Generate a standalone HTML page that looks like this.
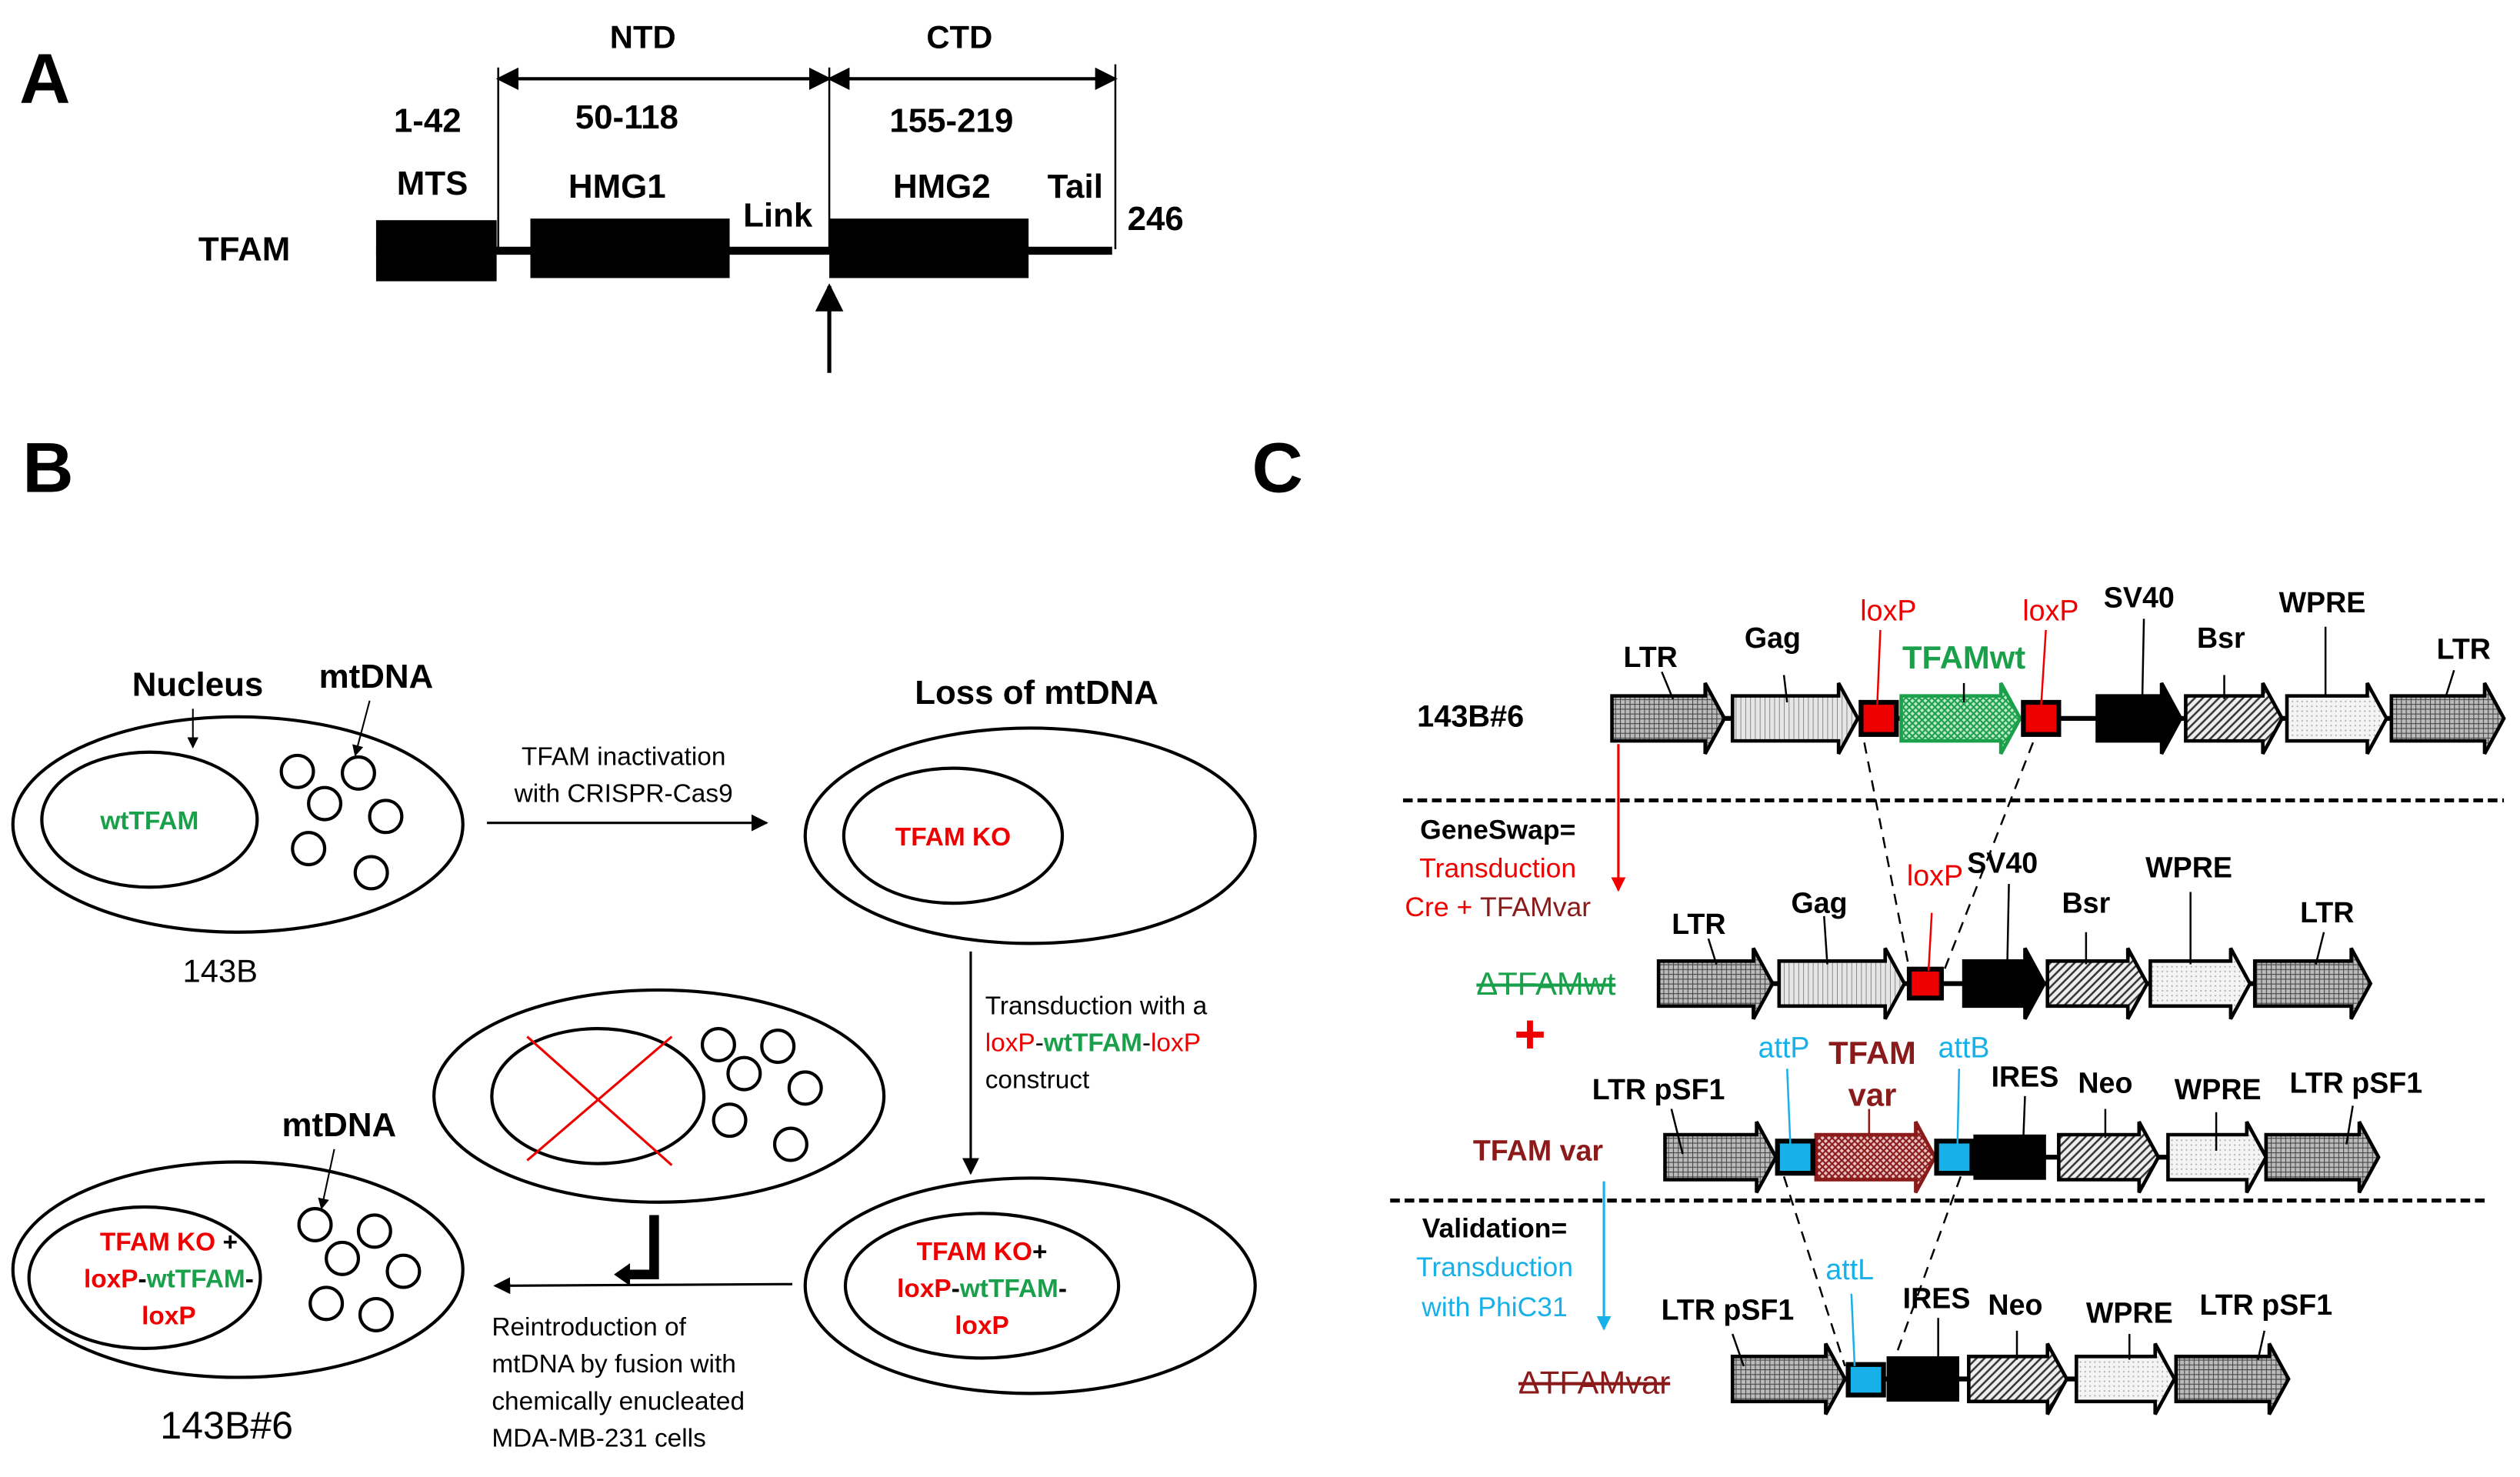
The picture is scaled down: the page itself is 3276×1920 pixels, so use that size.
<!DOCTYPE html>
<html><head><meta charset="utf-8"><style>
html,body{margin:0;padding:0;background:#fff}
svg{display:block}
text{font-family:"Liberation Sans Narrow","Liberation Sans",sans-serif}
.b{font-weight:bold}
.n{font-size:16px}
.l{font-size:18px;font-weight:bold;text-anchor:middle}
</style></head><body>
<svg width="3276" height="1920" viewBox="0 0 1568 919" xmlns="http://www.w3.org/2000/svg">
<defs>
<pattern id="grid" width="3" height="3" patternUnits="userSpaceOnUse"><rect width="3" height="3" fill="#bbb"/><path d="M0 0H3M0 0V3" stroke="#444" stroke-width="1"/></pattern>
<pattern id="vert" width="3" height="3" patternUnits="userSpaceOnUse"><rect width="3" height="3" fill="#e6e6e6"/><path d="M0 0V3" stroke="#777" stroke-width="0.8"/></pattern>
<pattern id="diag" width="5" height="5" patternUnits="userSpaceOnUse"><rect width="5" height="5" fill="#eee"/><path d="M0 5L5 0M-1 1L1 -1M4 6L6 4" stroke="#333" stroke-width="1.2"/></pattern>
<pattern id="dot" width="3" height="3" patternUnits="userSpaceOnUse"><rect width="3" height="3" fill="#f4f4f4"/><circle cx="1.5" cy="1.5" r="0.5" fill="#aaa"/></pattern>
<pattern id="green" width="4" height="4" patternUnits="userSpaceOnUse"><rect width="4" height="4" fill="#bfe8cc"/><path d="M0 0L4 4M4 0L0 4" stroke="#1aa04a" stroke-width="1"/></pattern>
<pattern id="dred" width="4" height="4" patternUnits="userSpaceOnUse"><rect width="4" height="4" fill="#e8c4c4"/><path d="M0 0L4 4M4 0L0 4" stroke="#8b1a1a" stroke-width="1"/></pattern>
<marker id="ah" viewBox="0 0 10 10" refX="9" refY="5" markerWidth="7" markerHeight="7" orient="auto-start-reverse"><path d="M0 0L10 5L0 10z" fill="#000"/></marker>
<marker id="ahr" viewBox="0 0 10 10" refX="9" refY="5" markerWidth="6" markerHeight="6" orient="auto"><path d="M0 0L10 5L0 10z" fill="#e00"/></marker>
<marker id="ahc" viewBox="0 0 10 10" refX="9" refY="5" markerWidth="6" markerHeight="6" orient="auto"><path d="M0 0L10 5L0 10z" fill="#18b0e8"/></marker>
</defs>

<!-- Panel A -->
<text x="12" y="64" font-size="44" class="b" font-family="Liberation Sans">A</text>
<text x="400" y="30" font-size="20" class="b" text-anchor="middle">NTD</text>
<text x="597" y="30" font-size="20" class="b" text-anchor="middle">CTD</text>
<line x1="310" y1="49" x2="516" y2="49" stroke="#000" stroke-width="2" marker-start="url(#ah)" marker-end="url(#ah)"/>
<line x1="516" y1="49" x2="694" y2="49" stroke="#000" stroke-width="2" marker-start="url(#ah)" marker-end="url(#ah)"/>
<line x1="310" y1="42" x2="310" y2="155" stroke="#000" stroke-width="1.2"/>
<line x1="516" y1="42" x2="516" y2="155" stroke="#000" stroke-width="1.2"/>
<line x1="694" y1="40" x2="694" y2="155" stroke="#000" stroke-width="1.2"/>
<g font-size="21" class="b" text-anchor="middle">
<text x="266" y="82">1-42</text><text x="390" y="80">50-118</text><text x="592" y="82">155-219</text>
<text x="269" y="121">MTS</text><text x="384" y="123">HMG1</text><text x="484" y="141">Link</text>
<text x="586" y="123">HMG2</text><text x="669" y="123">Tail</text><text x="719" y="143">246</text>
<text x="152" y="162">TFAM</text>
</g>
<line x1="234" y1="156" x2="692" y2="156" stroke="#000" stroke-width="5"/>
<rect x="234" y="137" width="75" height="38" fill="#000"/>
<rect x="330" y="136" width="124" height="37" fill="#000"/>
<rect x="516" y="136" width="124" height="37" fill="#000"/>
<line x1="516" y1="232" x2="516" y2="178" stroke="#000" stroke-width="2.5" marker-end="url(#ah)"/>

<!-- Panel B -->
<text x="14" y="306" font-size="44" class="b" font-family="Liberation Sans">B</text>
<text x="779" y="306" font-size="44" class="b" font-family="Liberation Sans">C</text>

<g fill="none" stroke="#000" stroke-width="2">
<ellipse cx="148" cy="513" rx="140" ry="67"/><ellipse cx="93" cy="510" rx="67" ry="42"/>
<ellipse cx="641" cy="520" rx="140" ry="67"/><ellipse cx="593" cy="520" rx="68" ry="42"/>
<ellipse cx="641" cy="800" rx="140" ry="67"/><ellipse cx="611" cy="800" rx="85" ry="45"/>
<ellipse cx="410" cy="682" rx="140" ry="66"/><ellipse cx="372" cy="682" rx="66" ry="42"/>
<ellipse cx="148" cy="790" rx="140" ry="67"/><ellipse cx="90" cy="795" rx="72" ry="44"/>
<circle cx="185" cy="480" r="10"/><circle cx="223" cy="481" r="10"/><circle cx="202" cy="500" r="10"/><circle cx="240" cy="508" r="10"/><circle cx="192" cy="528" r="10"/><circle cx="231" cy="543" r="10"/>
<circle cx="447" cy="650" r="10"/><circle cx="484" cy="651" r="10"/><circle cx="463" cy="668" r="10"/><circle cx="501" cy="677" r="10"/><circle cx="454" cy="697" r="10"/><circle cx="492" cy="712" r="10"/>
<circle cx="196" cy="762" r="10"/><circle cx="233" cy="766" r="10"/><circle cx="213" cy="783" r="10"/><circle cx="251" cy="791" r="10"/><circle cx="203" cy="811" r="10"/><circle cx="234" cy="818" r="10"/>
</g>
<line x1="328" y1="645" x2="418" y2="725" stroke="#e00" stroke-width="1.5"/>
<line x1="418" y1="645" x2="328" y2="722" stroke="#e00" stroke-width="1.5"/>

<text x="93" y="516" font-size="16" class="b" fill="#1aa04a" text-anchor="middle">wtTFAM</text>
<text x="123" y="433" font-size="21" class="b" text-anchor="middle">Nucleus</text>
<line x1="120" y1="441" x2="120" y2="465" stroke="#000" stroke-width="1" marker-end="url(#ah)"/>
<text x="234" y="428" font-size="21" class="b" text-anchor="middle">mtDNA</text>
<line x1="230" y1="436" x2="221" y2="470" stroke="#000" stroke-width="1" marker-end="url(#ah)"/>
<text x="137" y="611" font-size="20" text-anchor="middle">143B</text>
<line x1="303" y1="512" x2="477" y2="512" stroke="#000" stroke-width="1.5" marker-end="url(#ah)"/>
<text x="388" y="476" class="n" text-anchor="middle">TFAM inactivation</text>
<text x="388" y="499" class="n" text-anchor="middle">with CRISPR-Cas9</text>
<text x="645" y="438" font-size="21" class="b" text-anchor="middle">Loss of mtDNA</text>
<text x="593" y="526" font-size="16" class="b" fill="#e00" text-anchor="middle">TFAM KO</text>
<line x1="604" y1="592" x2="604" y2="730" stroke="#000" stroke-width="1.5" marker-end="url(#ah)"/>
<text x="613" y="631" class="n">Transduction with a</text>
<text x="613" y="654" class="n"><tspan fill="#e00">loxP</tspan>-<tspan fill="#1aa04a" font-weight="bold">wtTFAM</tspan>-<tspan fill="#e00">loxP</tspan></text>
<text x="613" y="677" class="n">construct</text>
<g font-size="16" class="b" text-anchor="middle">
<text x="611" y="784"><tspan fill="#e00">TFAM KO</tspan>+</text>
<text x="611" y="807"><tspan fill="#e00">loxP</tspan>-<tspan fill="#1aa04a">wtTFAM</tspan>-</text>
<text x="611" y="830" fill="#e00">loxP</text>
<text x="105" y="778"><tspan fill="#e00">TFAM KO</tspan> +</text>
<text x="105" y="801"><tspan fill="#e00">loxP</tspan>-<tspan fill="#1aa04a">wtTFAM</tspan>-</text>
<text x="105" y="824" fill="#e00">loxP</text>
</g>
<text x="211" y="707" font-size="21" class="b" text-anchor="middle">mtDNA</text>
<line x1="208" y1="715" x2="200" y2="752" stroke="#000" stroke-width="1" marker-end="url(#ah)"/>
<text x="141" y="895" font-size="24" text-anchor="middle">143B#6</text>
<line x1="493" y1="799" x2="308" y2="800" stroke="#000" stroke-width="1.5" marker-end="url(#ah)"/>
<path d="M407 756V793H390" fill="none" stroke="#000" stroke-width="6"/>
<path d="M392 786L382 793L392 800z" fill="#000"/>
<text x="306" y="831" class="n">Reintroduction of</text>
<text x="306" y="854" class="n">mtDNA by fusion with</text>
<text x="306" y="877" class="n">chemically enucleated</text>
<text x="306" y="900" class="n">MDA-MB-231 cells</text>

<!-- Panel C -->
<g stroke="#000" stroke-width="3">
<line x1="1003" y1="447" x2="1556" y2="447"/>
<line x1="1032" y1="612" x2="1473" y2="612"/>
<line x1="1036" y1="720" x2="1478" y2="720"/>
<line x1="1078" y1="858" x2="1422" y2="858"/>
</g>
<g stroke="#000" stroke-width="2.2">
<polygon fill="url(#grid)" points="1003,433 1061,433 1061,425 1073,447 1061,469 1061,461 1003,461"/>
<polygon fill="url(#vert)" points="1078,433 1144,433 1144,425 1156,447 1144,469 1144,461 1078,461"/>
<polygon fill="url(#green)" stroke="#1aa04a" points="1183,433 1245,433 1245,425 1257,447 1245,469 1245,461 1183,461"/>
<polygon fill="#000" points="1305,433 1345,433 1345,425 1357,447 1345,469 1345,461 1305,461"/>
<polygon fill="url(#diag)" points="1360,433 1408,433 1408,425 1420,447 1408,469 1408,461 1360,461"/>
<polygon fill="url(#dot)" points="1423,433 1473,433 1473,425 1485,447 1473,469 1473,461 1423,461"/>
<polygon fill="url(#grid)" points="1488,433 1546,433 1546,425 1558,447 1546,469 1546,461 1488,461"/>
<rect x="1158" y="437" width="22" height="20" fill="#e00" stroke-width="3"/>
<rect x="1259" y="437" width="22" height="20" fill="#e00" stroke-width="3"/>
<polygon fill="url(#grid)" points="1032,598 1091,598 1091,590 1103,612 1091,634 1091,626 1032,626"/>
<polygon fill="url(#vert)" points="1107,598 1173,598 1173,590 1185,612 1173,634 1173,626 1107,626"/>
<polygon fill="#000" points="1222,598 1260,598 1260,590 1272,612 1260,634 1260,626 1222,626"/>
<polygon fill="url(#diag)" points="1274,598 1324,598 1324,590 1336,612 1324,634 1324,626 1274,626"/>
<polygon fill="url(#dot)" points="1338,598 1388,598 1388,590 1400,612 1388,634 1388,626 1338,626"/>
<polygon fill="url(#grid)" points="1403,598 1463,598 1463,590 1475,612 1463,634 1463,626 1403,626"/>
<rect x="1188" y="603" width="20" height="18" fill="#e00" stroke-width="3"/>
<polygon fill="url(#grid)" points="1036,706 1093,706 1093,698 1105,720 1093,742 1093,734 1036,734"/>
<polygon fill="url(#dred)" stroke="#8b1a1a" points="1130,706 1192,706 1192,698 1204,720 1192,742 1192,734 1130,734"/>
<polygon fill="url(#diag)" points="1281,706 1331,706 1331,698 1343,720 1331,742 1331,734 1281,734"/>
<polygon fill="url(#dot)" points="1349,706 1398,706 1398,698 1410,720 1398,742 1398,734 1349,734"/>
<polygon fill="url(#grid)" points="1410,706 1468,706 1468,698 1480,720 1468,742 1468,734 1410,734"/>
<rect x="1106" y="710" width="22" height="20" fill="#18b0e8" stroke-width="3"/>
<rect x="1205" y="710" width="22" height="20" fill="#18b0e8" stroke-width="3"/>
<rect x="1229" y="707" width="43" height="26" fill="#000"/>
<polygon fill="url(#grid)" points="1078,844 1136,844 1136,836 1148,858 1136,880 1136,872 1078,872"/>
<polygon fill="url(#diag)" points="1225,844 1274,844 1274,836 1286,858 1274,880 1274,872 1225,872"/>
<polygon fill="url(#dot)" points="1292,844 1341,844 1341,836 1353,858 1341,880 1341,872 1292,872"/>
<polygon fill="url(#grid)" points="1354,844 1412,844 1412,836 1424,858 1412,880 1412,872 1354,872"/>
<rect x="1150" y="849" width="22" height="19" fill="#18b0e8" stroke-width="3"/>
<rect x="1175" y="845" width="43" height="26" fill="#000"/>
</g>

<g stroke="#000" fill="none">
<line x1="873" y1="498" x2="1558" y2="498" stroke-width="2.5" stroke-dasharray="6,3"/>
<line x1="865" y1="747" x2="1548" y2="747" stroke-width="2.5" stroke-dasharray="6,3"/>
<g stroke-width="1.2" stroke-dasharray="7,5">
<line x1="1160" y1="462" x2="1188" y2="603"/><line x1="1265" y1="462" x2="1210" y2="603"/>
<line x1="1110" y1="732" x2="1148" y2="850"/><line x1="1220" y1="732" x2="1178" y2="848"/>
</g>
</g>
<line x1="1007" y1="463" x2="1007" y2="554" stroke="#e00" stroke-width="1.5" marker-end="url(#ahr)"/>
<line x1="998" y1="735" x2="998" y2="827" stroke="#18b0e8" stroke-width="1.5" marker-end="url(#ahc)"/>

<g stroke="#000" stroke-width="1.2">
<line x1="1034" y1="418" x2="1041" y2="435"/><line x1="1110" y1="420" x2="1112" y2="437"/>
<line x1="1222" y1="425" x2="1222" y2="437"/><line x1="1334" y1="385" x2="1333" y2="435"/>
<line x1="1384" y1="420" x2="1384" y2="435"/><line x1="1447" y1="390" x2="1447" y2="433"/>
<line x1="1527" y1="417" x2="1522" y2="433"/>
<line x1="1063" y1="584" x2="1068" y2="600"/><line x1="1135" y1="570" x2="1137" y2="600"/>
<line x1="1250" y1="550" x2="1249" y2="600"/><line x1="1298" y1="580" x2="1298" y2="600"/>
<line x1="1363" y1="555" x2="1363" y2="600"/><line x1="1446" y1="580" x2="1441" y2="600"/>
<line x1="1040" y1="690" x2="1047" y2="718"/><line x1="1260" y1="682" x2="1259" y2="708"/>
<line x1="1310" y1="690" x2="1310" y2="708"/><line x1="1379" y1="692" x2="1379" y2="716"/>
<line x1="1464" y1="688" x2="1460" y2="712"/>
<line x1="1078" y1="830" x2="1085" y2="850"/><line x1="1206" y1="820" x2="1206" y2="846"/>
<line x1="1255" y1="828" x2="1255" y2="846"/><line x1="1325" y1="830" x2="1325" y2="846"/>
<line x1="1409" y1="828" x2="1405" y2="846"/>
</g>
<g stroke="#e00" stroke-width="1.2"><line x1="1170" y1="392" x2="1168" y2="440"/><line x1="1273" y1="392" x2="1270" y2="440"/><line x1="1202" y1="568" x2="1200" y2="604"/></g>
<g stroke="#18b0e8" stroke-width="1.2"><line x1="1112" y1="665" x2="1114" y2="712"/><line x1="1219" y1="665" x2="1218" y2="712"/><line x1="1152" y1="805" x2="1154" y2="850"/></g>
<line x1="1163" y1="690" x2="1163" y2="708" stroke="#8b1a1a" stroke-width="1.2"/>

<g class="l">
<text x="915" y="452" font-size="19">143B#6</text>
<text x="1027" y="415">LTR</text><text x="1103" y="403">Gag</text>
<text x="1175" y="386" fill="#e00" font-weight="normal">loxP</text>
<text x="1222" y="416" fill="#1aa04a" font-size="20">TFAMwt</text>
<text x="1276" y="386" fill="#e00" font-weight="normal">loxP</text>
<text x="1331" y="378">SV40</text><text x="1382" y="403">Bsr</text>
<text x="1445" y="381">WPRE</text><text x="1533" y="410">LTR</text>
<text x="932" y="522" font-size="17">GeneSwap=</text>
<text x="932" y="546" font-size="17" fill="#e00" font-weight="normal">Transduction</text>
<text x="932" y="570" font-size="17" font-weight="normal"><tspan fill="#e00">Cre +</tspan> <tspan fill="#8b1a1a">TFAMvar</tspan></text>
<text x="962" y="619" fill="#1aa04a" font-size="20" font-weight="normal" text-decoration="line-through">ΔTFAMwt</text>
<text x="1057" y="581">LTR</text><text x="1132" y="568">Gag</text>
<text x="1204" y="551" fill="#e00" font-weight="normal">loxP</text>
<text x="1246" y="543">SV40</text><text x="1298" y="568">Bsr</text>
<text x="1362" y="546">WPRE</text><text x="1448" y="574">LTR</text>
<text x="952" y="655" fill="#e00" font-size="34">+</text>
<text x="957" y="722" fill="#8b1a1a">TFAM var</text>
<text x="1032" y="684">LTR pSF1</text>
<text x="1110" y="658" fill="#18b0e8" font-weight="normal">attP</text>
<text x="1165" y="662" fill="#8b1a1a" font-size="20">TFAM</text>
<text x="1165" y="688" fill="#8b1a1a" font-size="20">var</text>
<text x="1222" y="658" fill="#18b0e8" font-weight="normal">attB</text>
<text x="1260" y="676">IRES</text><text x="1310" y="680">Neo</text>
<text x="1380" y="684">WPRE</text><text x="1466" y="680">LTR pSF1</text>
<text x="930" y="770" font-size="17">Validation=</text>
<text x="930" y="794" font-size="17" fill="#18b0e8" font-weight="normal">Transduction</text>
<text x="930" y="819" font-size="17" fill="#18b0e8" font-weight="normal">with PhiC31</text>
<text x="992" y="867" fill="#8b1a1a" font-size="20" font-weight="normal" text-decoration="line-through">ΔTFAMvar</text>
<text x="1075" y="821">LTR pSF1</text>
<text x="1151" y="796" fill="#18b0e8" font-weight="normal">attL</text>
<text x="1205" y="814">IRES</text><text x="1254" y="818">Neo</text>
<text x="1325" y="823">WPRE</text><text x="1410" y="818">LTR pSF1</text>
</g>
</svg>
</body></html>
